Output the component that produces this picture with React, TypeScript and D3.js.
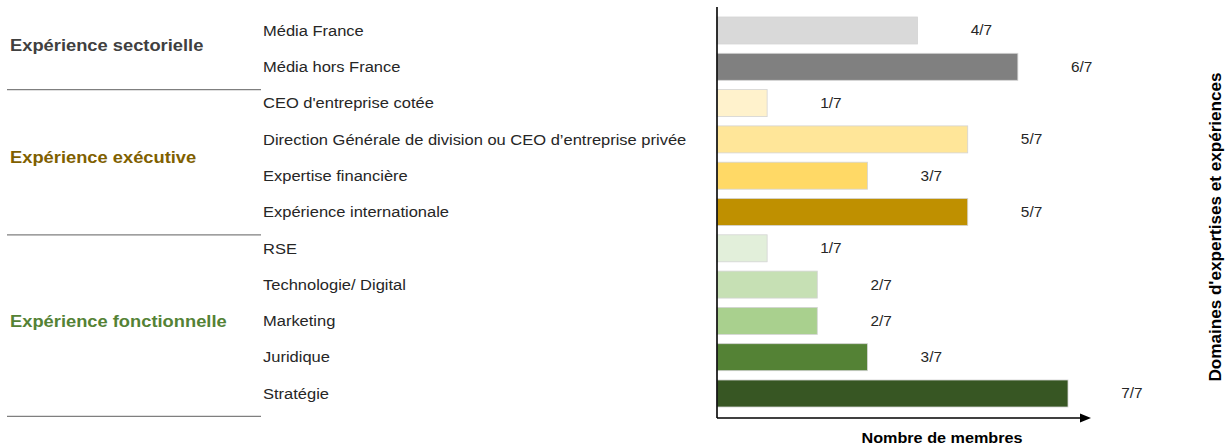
import React, { useEffect, useRef } from 'react'
import * as d3 from 'd3'

// categories (top to bottom) and member counts out of 7
const categories = [
  'Média France',
  'Média hors France',
  "CEO d'entreprise cotée",
  'Direction Générale de division ou CEO d’entreprise privée',
  'Expertise financière',
  'Expérience internationale',
  'RSE',
  'Technologie/ Digital',
  'Marketing',
  'Juridique',
  'Stratégie',
]
const members = [4, 6, 1, 5, 3, 5, 1, 2, 2, 3, 7]
const total = 7
const barColors = [
  '#D9D9D9', '#808080',
  '#FFF2CC', '#FFE699', '#FFD966', '#BF9000',
  '#E2EFDA', '#C6E0B4', '#A9D08E', '#548235', '#375623',
]

// groups: label, first and last category index, colour
const groupNames = ['Expérience sectorielle', 'Expérience exécutive', 'Expérience fonctionnelle']
const groupStart = [0, 2, 6]
const groupEnd = [1, 5, 10]
const groupColors = ['#404040', '#7F6000', '#548235']

const xTitle = 'Nombre de membres'
const yTitle = "Domaines d'expertises et expériences"

const W = 1230
const H = 446
const FONT = '"Liberation Sans", Arial, sans-serif'

export default function App() {
  const ref = useRef<SVGSVGElement>(null)

  useEffect(() => {
    if (!ref.current) return
    const svg = d3.select(ref.current)
    svg.selectAll('*').remove()

    const x0 = 717
    const x = d3.scaleLinear().domain([0, total]).range([x0, x0 + 351])
    const y = d3.scaleBand<string>()
      .domain(categories)
      .range([12.35, 411.65])
      .paddingInner(0.256)
      .paddingOuter(0.128)
    const step = y.step()
    const mid = (i: number) => (y(categories[i]) as number) + y.bandwidth() / 2

    // text is a touch wider than the installed Arial clone, stretch it a little
    const place = (px: number, py: number, sx: number) => `translate(${px},${py}) scale(${sx},1)`

    // bars
    svg.append('g')
      .selectAll('rect')
      .data(members)
      .join('rect')
      .attr('x', x(0))
      .attr('y', (_, i) => y(categories[i]) as number)
      .attr('width', d => x(d) - x(0))
      .attr('height', y.bandwidth())
      .attr('fill', (_, i) => barColors[i])
      .attr('stroke', '#d4d4d4')
      .attr('stroke-width', 0.8)

    // value labels
    svg.append('g')
      .selectAll('text')
      .data(members)
      .join('text')
      .attr('transform', (d, i) => place(x(d + 1) + 3, mid(i), 1.1))
      .attr('dy', '0.35em')
      .attr('font-family', FONT)
      .attr('font-size', 14)
      .attr('fill', '#262626')
      .text(d => `${d}/${total}`)

    // category labels
    svg.append('g')
      .selectAll('text')
      .data(categories)
      .join('text')
      .attr('transform', (_, i) => place(263, mid(i), 1.1))
      .attr('dy', '0.35em')
      .attr('font-family', FONT)
      .attr('font-size', 15)
      .attr('fill', '#262626')
      .text(d => d)

    // group labels
    svg.append('g')
      .selectAll('text')
      .data(groupNames)
      .join('text')
      .attr('transform', (_, g) => place(10, (mid(groupStart[g]) + mid(groupEnd[g])) / 2 - (g === 0 ? 3 : 0), 1.11))
      .attr('dy', '0.35em')
      .attr('font-family', FONT)
      .attr('font-size', 16.5)
      .attr('font-weight', 'bold')
      .attr('fill', (_, g) => groupColors[g])
      .text(d => d)

    // separators below each group
    svg.append('g')
      .selectAll('line')
      .data(groupEnd)
      .join('line')
      .attr('x1', 7)
      .attr('x2', 261)
      .attr('y1', e => (y(categories[e]) as number) + step)
      .attr('y2', e => (y(categories[e]) as number) + step)
      .attr('stroke', '#7F7F7F')
      .attr('stroke-width', 1.3)

    // axes
    const axisY = 418
    svg.append('line')
      .attr('x1', x0).attr('x2', x0)
      .attr('y1', 7).attr('y2', axisY)
      .attr('stroke', '#000').attr('stroke-width', 1.6)
    svg.append('line')
      .attr('x1', x0).attr('x2', 1081)
      .attr('y1', axisY).attr('y2', axisY)
      .attr('stroke', '#000').attr('stroke-width', 1.6)
    svg.append('path')
      .attr('d', d3.line()([[1080, axisY - 4.5], [1091, axisY], [1080, axisY + 4.5]]) + 'Z')
      .attr('fill', '#000')

    // axis titles
    svg.append('text')
      .attr('transform', place(942, 438, 1.08))
      .attr('dy', '0.35em')
      .attr('text-anchor', 'middle')
      .attr('font-family', FONT)
      .attr('font-size', 15)
      .attr('font-weight', 'bold')
      .attr('fill', '#000')
      .text(xTitle)

    svg.append('text')
      .attr('transform', `translate(1215,227) rotate(-90) scale(1.07,1)`)
      .attr('dy', '0.35em')
      .attr('text-anchor', 'middle')
      .attr('font-family', FONT)
      .attr('font-size', 16)
      .attr('font-weight', 'bold')
      .attr('fill', '#000')
      .text(yTitle)
  }, [])

  return (
    <div style={{ position: 'absolute', left: 0, top: 0, width: W, height: H, background: '#fff' }}>
      <svg ref={ref} width={W} height={H} />
    </div>
  )
}
